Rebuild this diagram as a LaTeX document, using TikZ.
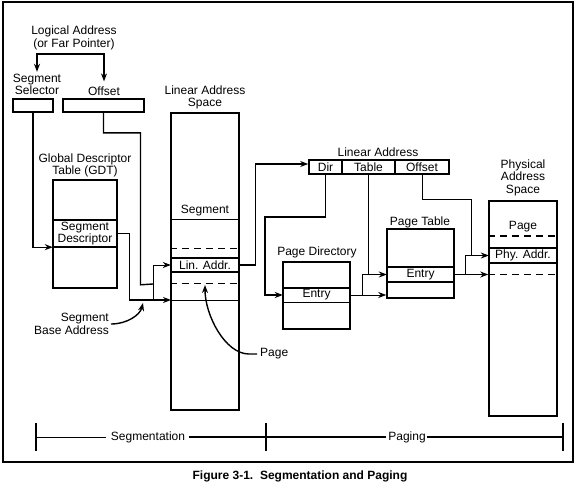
\documentclass[tikz,border=0pt]{standalone}
\usepackage{fontspec}
\setmainfont{Liberation Sans}
\usetikzlibrary{arrows.meta}
\pgfdeclarelayer{bg}
\pgfsetlayers{bg,main}
\tikzset{
    every node/.style={inner sep=0mm, align=center, font=\fontsize{12}{12.5}\selectfont}
}
\tikzset{box/.style={rectangle, draw, line width=1.6pt}}
\tikzset{row/.style={rectangle, draw=none}}
\tikzset{conn/.style={line width=1.4pt}, thinconn/.style={line width=0.8pt}}
\tikzset{arr/.style={-{Stealth[length=8pt,width=6pt]}}}
\tikzset{sep/.style={line width=1.6pt}, sepdash/.style={dash pattern=on 7pt off 5pt}}

\begin{document}
\begin{tikzpicture}[x=1pt, y=-1pt]
        \useasboundingbox (0,0) rectangle (577,487);
        \draw[line width=1.6pt] (3,2) rectangle (573,462);
        % labels
        \node (logaddr) at (74,38) {Logical Address\\(or Far Pointer)};
        \node (sellbl) at (37,84.5) {Segment\\Selector};
        \node (offlbl) at (104,91) {Offset};
        \node (gdtlbl) at (85,165.5) {Global Descriptor\\Table (GDT)};
        \node (laslbl) at (205,97.5) {Linear Address\\Space};
        \node (sbalbl) [anchor=east, align=right] at (109,324) {Segment\\Base Address};
        \node (pagelbl) [anchor=west] at (260,354) {Page};
        \node (lalbl) at (378,152) {Linear Address};
        \node (pdlbl) at (317,252) {Page Directory};
        \node (ptlbl) at (420,222) {Page Table};
        \node (physlbl) at (523,177.5) {Physical\\Address\\Space};
        \node (seglbl) at (148,437) {Segmentation};
        \node (paglbl) at (407,437) {Paging};
        \node (caption) [font=\bfseries\fontsize{12}{14}\selectfont] at (300,476) {Figure 3-1.\ \ Segmentation and Paging};
        % boxes
        \node (sel) [box, minimum width=40pt, minimum height=13pt] at (33,105.5) {};
        \node (off) [box, minimum width=81pt, minimum height=13pt] at (103.5,105.5) {};
        \node (gdt) [box, minimum width=64pt, minimum height=108pt] at (85,234) {};
        \node (desc) [row, minimum width=64pt, minimum height=27pt] at (85,233.5) {Segment\\Descriptor};
        \node (las) [box, minimum width=68pt, minimum height=297pt] at (205,261.5) {};
        \node (segtxt) at (205,211) {Segment};
        \node (lin) [row, minimum width=68pt, minimum height=14pt] at (205,265) {Lin. Addr.};
        \node (labox) [box, minimum width=140pt, minimum height=14pt] at (379,167) {};
        \node (dir) [row, minimum width=33pt, minimum height=14pt] at (325.5,167) {Dir};
        \node (tab) [row, minimum width=53pt, minimum height=14pt] at (368.5,167) {Table};
        \node (lofs) [row, minimum width=54pt, minimum height=14pt] at (422,167) {Offset};
        \node (pd) [box, minimum width=67pt, minimum height=67pt] at (316.5,295.5) {};
        \node (pdentry) [row, minimum width=67pt, minimum height=14pt] at (316.5,295) {Entry};
        \node (pt) [box, minimum width=67pt, minimum height=69pt] at (420.5,263.5) {};
        \node (ptentry) [row, minimum width=67pt, minimum height=15pt] at (420.5,274.5) {Entry};
        \node (phys) [box, minimum width=68pt, minimum height=215pt] at (523,308.5) {};
        \node (pgtxt) at (523,227) {Page};
        \node (phyaddr) [row, minimum width=68pt, minimum height=15pt] at (523,255.5) {Phy. Addr.};
        % row separators
        \draw[sep] (desc.north west) -- (desc.north east) (desc.south west) -- (desc.south east);
        \draw[thinconn] (las.west |- 0,219) -- (las.east |- 0,219);
        \draw[thinconn, sepdash] (las.west |- 0,248) -- (las.east |- 0,248);
        \draw[sep] (lin.north west) -- (lin.north east) (lin.south west) -- (lin.south east);
        \draw[thinconn, sepdash] (las.west |- 0,283) -- (las.east |- 0,283);
        \draw[thinconn] (las.west |- 0,300) -- (las.east |- 0,300);
        \draw[sep] (dir.north east) -- (dir.south east) (tab.north east) -- (tab.south east);
        \draw[sep] (pdentry.north west) -- (pdentry.north east);
        \draw[thinconn] (pdentry.south west) -- (pdentry.south east);
        \draw[sep] (ptentry.north west) -- (ptentry.north east) (ptentry.south west) -- (ptentry.south east);
        \draw[sep, sepdash] (phys.west |- 0,236) -- (phys.east |- 0,236);
        \draw[sep] (phyaddr.north west) -- (phyaddr.north east) (phyaddr.south west) -- (phyaddr.south east);
        \draw[thinconn, sepdash] (phys.west |- 0,274) -- (phys.east |- 0,274);
        % junctions
        \coordinate (jseg) at (153,284);
        \coordinate (jbase) at (153,300);
        \coordinate (segbase) at (171,300);
        \coordinate (dirbend) at (265,217);
        \coordinate (jpd) at (362,295);
        \coordinate (jofs) at (471,255.5);
        \coordinate (jphys) at (465,274.5);
        \coordinate (sbatip) at (143,303);
        \coordinate (pagetip) at (205,285);
        \coordinate (t1) at (36,437);
        \coordinate (t2) at (266,437);
        \coordinate (t3) at (563,437);
        \begin{pgfonlayer}{bg}
                \draw[conn, {Stealth[length=8pt,width=6pt]}-{Stealth[length=8pt,width=6pt]}] ([yshift=2pt]sellbl.north) -- ++(0,-18) -| ([yshift=5pt]offlbl.north);
                \draw[conn, arr] (sel.south) |- (desc.south west);
                \draw[conn] (off.south) -- ++(0,20) -| ++(37,152) -- (jseg);
                \draw[conn, arr] (desc.east) -- ++(12,0) |- (segbase);
                \draw[thinconn, arr] (jbase) |- (lin.west);
                \draw[conn, arr] ([xshift=2pt]sbalbl.east) .. controls +(16,0) and +(-3,12) .. (sbatip);
                \draw[conn, arr] ([xshift=-3pt]pagelbl.west) -- ++(-8,0) .. controls +(-24,0) and +(0,30) .. (pagetip);
                \draw[conn, arr] (lin.east) -- ++(16,0) |- ([yshift=3pt]labox.west);
                \draw[conn, arr] (dir.south) |- (dirbend) |- (pdentry.west);
                \draw[thinconn, arr] (tab.south) |- (ptentry.west);
                \draw[thinconn] (jpd) |- (tab.south |- ptentry.west);
                \draw[thinconn, arr] (pdentry.east) -- (pt.west |- pdentry.east);
                \draw[thinconn] (lofs.south) -- ++(0,25) -| (jofs);
                \draw[thinconn, arr] (ptentry.east) -- (phys.west |- ptentry.east);
                \draw[thinconn, arr] (jphys) |- (phyaddr.west);
        \end{pgfonlayer}
        % scale
        \draw[thinconn] (t1) -- ([xshift=-5pt]seglbl.west);
        \draw[conn] ([xshift=4pt]seglbl.east) -- (t2) -- ([xshift=-2pt]paglbl.west);
        \draw[conn] ([xshift=1pt]paglbl.east) -- (t3);
        \foreach \t in {t1,t2,t3}
                \draw[sep] (\t) ++(0,-14) -- ++(0,28);
\end{tikzpicture}
\end{document}
